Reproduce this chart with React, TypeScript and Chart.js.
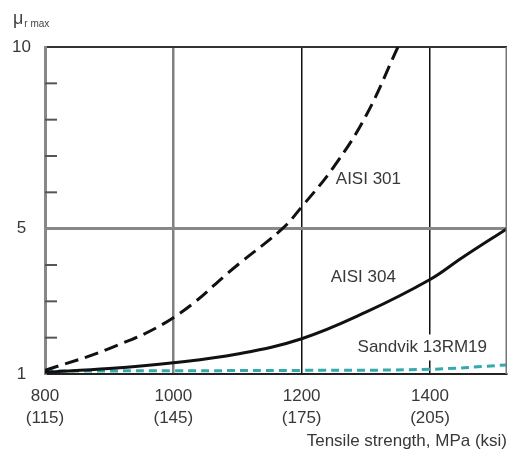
import React, { useEffect, useRef } from "react";
import { Chart, registerables } from "chart.js";

Chart.register(...registerables);

// ---- data ----
const xTicks = [800, 1000, 1200, 1400];
const xTickKsi = ["(115)", "(145)", "(175)", "(205)"];
const yTicks = [1, 2, 3, 4, 5, 6, 7, 8, 9, 10];
const yLabelled = [1, 5, 10];

const aisi301X = [800, 900, 1000, 1100, 1170, 1200, 1250, 1300, 1350];
const aisi301Y = [1.1, 1.7, 2.55, 4.0, 5.0, 5.6, 6.7, 8.1, 10];

const aisi304X = [800, 900, 1000, 1100, 1200, 1300, 1400, 1450, 1520];
const aisi304Y = [1.05, 1.15, 1.31, 1.55, 1.97, 2.7, 3.6, 4.2, 5.0];

const sandvikX = [800, 1000, 1200, 1400, 1520];
const sandvikY = [1.08, 1.09, 1.1, 1.13, 1.25];

const curveNames = ["AISI 301", "AISI 304", "Sandvik 13RM19"];
const curveLabelX = [1304, 1296, 1388];
const curveLabelY = [6.37, 3.66, 1.73];

const xTitle = "Tensile strength, MPa (ksi)";
const yTitleMain = "\u03bc";
const yTitleSub = "r max";

const FONT = "'Liberation Sans', Arial, Helvetica, sans-serif";
const TEXT = "#383838";

const toPts = (xs: number[], ys: number[]) => xs.map((x, i) => ({ x, y: ys[i] }));

const overlay = {
  id: "overlay",
  afterDatasetsDraw(chart: any) {
    const { ctx, chartArea, scales } = chart;
    const xs = scales.x;
    const ys = scales.y;
    ctx.save();
    // right border
    ctx.strokeStyle = "#777";
    ctx.lineWidth = 1.5;
    ctx.beginPath();
    ctx.moveTo(chartArea.right - 0.75, chartArea.top);
    ctx.lineTo(chartArea.right - 0.75, chartArea.bottom);
    ctx.stroke();
    // inner tick marks on y axis
    ctx.strokeStyle = "#555";
    ctx.lineWidth = 2;
    yTicks.forEach((v) => {
      if (yLabelled.includes(v)) return;
      const py = ys.getPixelForValue(v);
      ctx.beginPath();
      ctx.moveTo(chartArea.left, py);
      ctx.lineTo(chartArea.left + 12, py);
      ctx.stroke();
    });
    // curve labels
    ctx.font = `17px ${FONT}`;
    ctx.textAlign = "center";
    ctx.textBaseline = "middle";
    curveNames.forEach((name, i) => {
      const px = xs.getPixelForValue(curveLabelX[i]);
      const py = ys.getPixelForValue(curveLabelY[i]);
      if (i === 2) {
        const w = ctx.measureText(name).width;
        ctx.fillStyle = "#fff";
        ctx.fillRect(px - w / 2 - 3, py - 13, w + 6, 26);
      }
      ctx.fillStyle = TEXT;
      ctx.fillText(name, px, py);
    });
    ctx.restore();
  },
  afterDraw(chart: any) {
    const { ctx } = chart;
    ctx.save();
    ctx.fillStyle = "#444";
    ctx.textBaseline = "alphabetic";
    ctx.textAlign = "left";
    ctx.font = `18px ${FONT}`;
    ctx.fillText(yTitleMain, 13, 24);
    const w = ctx.measureText(yTitleMain).width;
    ctx.font = `10px ${FONT}`;
    ctx.fillText(yTitleSub, 13 + w + 1, 27);
    ctx.restore();
  },
};

export default function App() {
  const ref = useRef<HTMLCanvasElement | null>(null);
  useEffect(() => {
    if (!ref.current) return;
    const chart = new Chart(ref.current, {
      type: "scatter",
      data: {
        datasets: [
          {
            label: curveNames[0],
            data: toPts(aisi301X, aisi301Y),
            showLine: true,
            borderColor: "#111",
            borderWidth: 3,
            borderDash: [14, 7],
            pointRadius: 0,
            tension: 0.4,
          },
          {
            label: curveNames[1],
            data: toPts(aisi304X, aisi304Y),
            showLine: true,
            borderColor: "#111",
            borderWidth: 3,
            pointRadius: 0,
            tension: 0.4,
          },
          {
            label: curveNames[2],
            data: toPts(sandvikX, sandvikY),
            showLine: true,
            borderColor: "#35a9ad",
            borderWidth: 3,
            borderDash: [8, 5],
            pointRadius: 0,
            tension: 0.4,
          },
        ],
      } as any,
      options: {
        animation: false,
        responsive: false,
        events: [],
        layout: { padding: { top: 47, right: 1, left: 0, bottom: 0 } },
        plugins: { legend: { display: false }, tooltip: { enabled: false } },
        scales: {
          x: {
            type: "linear",
            min: 800,
            max: 1520,
            afterBuildTicks: (s: any) => {
              s.ticks = xTicks.map((v) => ({ value: v }));
            },
            afterFit: (s: any) => {
              s.height = 83;
            },
            ticks: {
              autoSkip: false,
              maxRotation: 0,
              padding: 11,
              color: TEXT,
              font: { family: FONT, size: 17, lineHeight: 1.3 },
              callback: (v: any) => {
                const i = xTicks.indexOf(Number(v));
                return [String(v), xTickKsi[i] ?? ""];
              },
            },
            grid: {
              drawTicks: false,
              color: (c: any) => {
                const v = c.tick?.value;
                if (v === 1000) return "#808080";
                if (v === 1200 || v === 1400) return "#111";
                return "rgba(0,0,0,0)";
              },
              lineWidth: (c: any) => (c.tick?.value === 1000 ? 2.5 : 1.5),
            },
            border: { display: true, color: "#222", width: 2 },
            title: {
              display: true,
              text: xTitle,
              align: "end",
              color: TEXT,
              font: { family: FONT, size: 17, lineHeight: 1.2 },
              padding: { top: 0, bottom: 5 },
            },
          },
          y: {
            type: "linear",
            min: 1,
            max: 10,
            afterBuildTicks: (s: any) => {
              s.ticks = yTicks.map((v) => ({ value: v }));
            },
            afterFit: (s: any) => {
              s.width = 45;
            },
            ticks: {
              autoSkip: false,
              crossAlign: "center",
              padding: 14,
              color: TEXT,
              font: { family: FONT, size: 17 },
              callback: (v: any) => (yLabelled.includes(Number(v)) ? String(v) : ""),
            },
            grid: {
              drawTicks: false,
              color: (c: any) => {
                const v = c.tick?.value;
                if (v === 5) return "#888";
                if (v === 10) return "#333";
                return "rgba(0,0,0,0)";
              },
              lineWidth: (c: any) => (c.tick?.value === 5 ? 3 : 2),
            },
            border: { display: true, color: "#888", width: 3 },
          },
        },
      } as any,
      plugins: [overlay],
    });
    return () => chart.destroy();
  }, []);
  return (
    <div style={{ position: "fixed", left: 0, top: 0, width: 508, height: 457, background: "#fff" }}>
      <canvas ref={ref} width={508} height={457} style={{ width: 508, height: 457 }} />
    </div>
  );
}
